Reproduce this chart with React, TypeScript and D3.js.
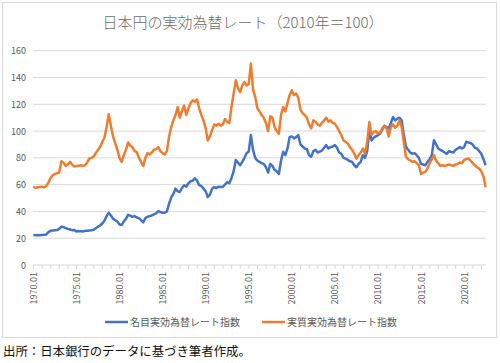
import React, { useEffect, useRef } from "react";
import * as d3 from "d3";

// quarterly readings (Jan, Apr, Jul, Oct) from 1970.01 to 2022.07
const nominal = [
  22.4, 22.3, 22.4, 22.3,
  22.4, 22.5, 22.8, 24.5,
  25.5, 25.8, 26.0, 26.1,
  27.0, 28.6, 28.3, 27.6,
  27.0, 26.5, 26.0, 26.2,
  25.0, 25.4, 25.2, 25.0,
  25.5, 25.6, 25.8, 26.0,
  26.3, 27.5, 28.6, 29.5,
  31.0, 33.0, 36.5, 39.0,
  37.0, 34.5, 33.5, 32.5,
  30.2, 29.8, 32.5, 34.5,
  37.5, 36.8, 36.0, 36.5,
  35.5, 35.0, 33.5, 31.8,
  35.0, 36.0, 36.5, 37.0,
  37.8, 38.5, 40.3, 39.5,
  39.0, 39.0, 40.0, 45.6,
  50.5, 53.0, 57.0, 55.0,
  54.5, 57.5, 59.5, 58.5,
  61.0, 62.5, 63.0, 64.8,
  63.0, 59.6, 59.0, 57.0,
  55.0, 50.8, 52.5, 57.0,
  58.2, 57.5, 58.5, 58.2,
  58.5, 60.0, 62.0, 61.0,
  65.0, 70.0, 78.4, 76.5,
  74.5, 77.0, 80.0, 83.5,
  84.8, 97.0, 86.0, 80.0,
  78.0, 77.0, 76.0, 75.5,
  73.0, 69.0, 75.5, 74.0,
  71.0, 70.0, 68.0, 78.0,
  84.6, 82.0, 87.0, 95.5,
  96.0, 94.5, 95.5, 97.0,
  90.0, 88.5, 87.0, 86.5,
  82.0, 80.8, 85.0, 86.0,
  84.0, 84.6, 85.5, 87.5,
  89.5, 87.0, 88.0, 88.5,
  89.5, 87.5, 84.0, 83.0,
  80.0, 79.4, 78.5, 77.5,
  77.0, 74.5, 73.0, 75.5,
  77.0, 82.0, 80.0, 85.0,
  100.7, 93.0, 95.0, 96.0,
  97.0, 98.0, 101.0, 104.0,
  103.0, 102.0, 106.0, 110.5,
  108.0, 109.3, 110.0, 108.0,
  97.0, 88.5, 86.0, 84.0,
  83.0, 83.5, 82.0, 80.0,
  75.5, 75.0, 74.5, 77.0,
  79.0, 82.0, 93.2, 90.0,
  87.0, 86.0, 85.0, 84.0,
  83.0, 85.0, 84.5, 84.0,
  86.0, 87.0, 88.0, 87.0,
  88.0, 92.0, 91.5, 91.0,
  90.0, 87.5, 87.0, 85.0,
  83.0, 79.0, 74.5,
];

const real = [
  58.4, 57.5, 58.0, 58.2,
  58.5, 58.0, 59.0, 61.5,
  65.0, 67.0, 68.0, 68.5,
  69.0, 77.5, 76.5, 74.0,
  75.0, 77.0, 75.0, 73.5,
  74.0, 74.0, 74.5, 74.0,
  74.5, 76.5, 79.6, 80.0,
  81.0, 83.5, 86.0, 88.0,
  92.0, 95.0, 103.0, 112.6,
  104.0, 96.0, 91.0, 86.0,
  80.0, 77.0, 82.0, 86.0,
  91.5, 89.0, 88.0, 85.0,
  84.4, 80.0, 77.0, 74.0,
  80.0, 83.5, 82.5, 84.0,
  86.0, 86.5, 88.0, 85.0,
  83.5, 82.5, 85.0, 95.7,
  103.0, 108.0, 112.0, 118.0,
  110.0, 115.0, 119.0, 112.0,
  117.0, 121.0, 123.0, 122.0,
  123.6, 117.0, 112.0, 108.0,
  102.0, 93.0, 96.0, 100.7,
  105.0, 104.0, 105.5, 104.0,
  105.0, 109.0, 107.0, 106.0,
  118.0, 128.0, 138.0, 132.0,
  129.0, 134.0, 136.6, 134.0,
  135.0, 150.4, 131.0, 125.6,
  117.0, 114.7, 112.0, 110.0,
  106.0, 100.0, 111.0, 110.0,
  103.0, 100.0, 98.0, 112.0,
  118.0, 114.7, 121.0, 127.0,
  130.5, 126.7, 128.0, 125.0,
  116.0, 113.4, 112.0, 110.0,
  105.0, 102.0, 108.0, 107.0,
  105.0, 104.0, 106.0, 108.0,
  110.0, 107.0, 108.0, 106.0,
  105.6, 103.0, 100.0, 97.0,
  93.0, 92.0, 90.7, 88.0,
  86.0, 83.2, 79.4, 82.0,
  84.0, 87.0, 83.0, 92.0,
  106.8, 97.0, 99.4, 100.0,
  98.0, 99.0, 102.0, 104.0,
  102.0, 96.0, 103.0, 105.0,
  102.5, 104.0, 108.0, 103.0,
  92.0, 80.8, 79.0, 78.0,
  77.0, 77.5, 76.0, 74.5,
  68.0, 69.0, 69.5, 72.0,
  76.0, 79.0, 82.0, 78.0,
  76.0, 74.0, 74.5, 74.0,
  74.5, 75.0, 74.5, 74.0,
  75.0, 75.5, 76.5, 76.0,
  78.4, 79.0, 79.6, 78.0,
  76.0, 74.5, 73.0, 72.0,
  70.0, 66.0, 58.0,
];

const seriesNames = ["名目実効為替レート指数", "実質実効為替レート指数"];
const colors = ["#4472C4", "#ED7D31"];
const yTicks = [0, 20, 40, 60, 80, 100, 120, 140, 160];
const startYear = 1970;
const monthCount = 631; // 1970.01 .. 2022.07

export default function App() {
  const ref = useRef<SVGSVGElement>(null);

  useEffect(() => {
    const svg = d3.select(ref.current);
    svg.selectAll("*").remove();
    const W = 500, H = 363;
    const left = 33, right = 486, top = 50.7, bottom = 265;
    const font = "'Noto Sans CJK JP', 'Noto Sans', sans-serif";

    svg.append("rect").attr("width", W).attr("height", H).attr("fill", "#fff");
    svg.append("rect")
      .attr("x", 2.5).attr("y", 2.5).attr("width", 494).attr("height", 335)
      .attr("fill", "#fff").attr("stroke", "#d9d9d9").attr("stroke-width", 1);

    svg.append("text")
      .attr("x", 243).attr("y", 28)
      .attr("text-anchor", "middle")
      .attr("font-family", font).attr("font-size", 15)
      .attr("font-weight", 300)
      .attr("fill", "#6b6b6b")
      .text("日本円の実効為替レート（2010年＝100）");

    const x = d3.scaleLinear().domain([0, monthCount]).range([left, right]);
    const y = d3.scaleLinear().domain([0, 160]).range([bottom, top]);

    // gridlines
    svg.append("g").selectAll("line").data(yTicks.slice(1)).enter().append("line")
      .attr("x1", left).attr("x2", right)
      .attr("y1", d => y(d)).attr("y2", d => y(d))
      .attr("stroke", "#d9d9d9").attr("stroke-width", 1);

    svg.append("g").selectAll("text").data(yTicks).enter().append("text")
      .attr("x", 26).attr("y", d => y(d) + 3.5)
      .attr("text-anchor", "end")
      .attr("font-family", font).attr("font-size", 9)
      .attr("fill", "#595959")
      .text(d => d);

    // category axis
    const xAxis = d3.axisBottom(x)
      .tickValues(d3.range(0, monthCount + 1, 12))
      .tickSize(4)
      .tickFormat(() => "");
    const gx = svg.append("g").attr("transform", `translate(0,${bottom})`).call(xAxis);
    gx.select(".domain").attr("stroke", "#d9d9d9").attr("d", `M${left},0H${right}`);
    gx.selectAll(".tick line").attr("stroke", "#d9d9d9");

    const labelMonths = d3.range(0, monthCount, 60);
    svg.append("g").selectAll("text").data(labelMonths).enter().append("text")
      .attr("transform", d => `translate(${x(d + 0.5) + 3.5},272) rotate(-90)`)
      .attr("text-anchor", "end")
      .attr("font-family", font).attr("font-size", 9)
      .attr("fill", "#595959")
      .text(d => `${startYear + d / 12}.01`);

    const line = d3.line<number>()
      .x((d, i) => x(i * 3 + 0.5))
      .y(d => y(d));

    [nominal, real].forEach((s, k) => {
      svg.append("path")
        .datum(s)
        .attr("d", line)
        .attr("fill", "none")
        .attr("stroke", colors[k])
        .attr("stroke-width", 2.5)
        .attr("stroke-linejoin", "round");
    });

    // legend
    const legendX = [105, 262];
    seriesNames.forEach((n, k) => {
      const g = svg.append("g").attr("transform", `translate(${legendX[k]},322)`);
      g.append("line").attr("x1", 0).attr("x2", 23).attr("y1", 0).attr("y2", 0)
        .attr("stroke", colors[k]).attr("stroke-width", 2.5);
      g.append("text").attr("x", 25).attr("y", 3.5)
        .attr("font-family", font).attr("font-size", 10)
        .attr("fill", "#595959")
        .text(n);
    });

    svg.append("text")
      .attr("x", 3).attr("y", 356)
      .attr("font-family", font).attr("font-size", 12.4)
      .attr("fill", "#111")
      .text("出所：日本銀行のデータに基づき筆者作成。");
  }, []);

  return (
    <div style={{ position: "absolute", left: 0, top: 0 }}>
      <svg ref={ref} width={500} height={363} style={{ display: "block" }} />
    </div>
  );
}
